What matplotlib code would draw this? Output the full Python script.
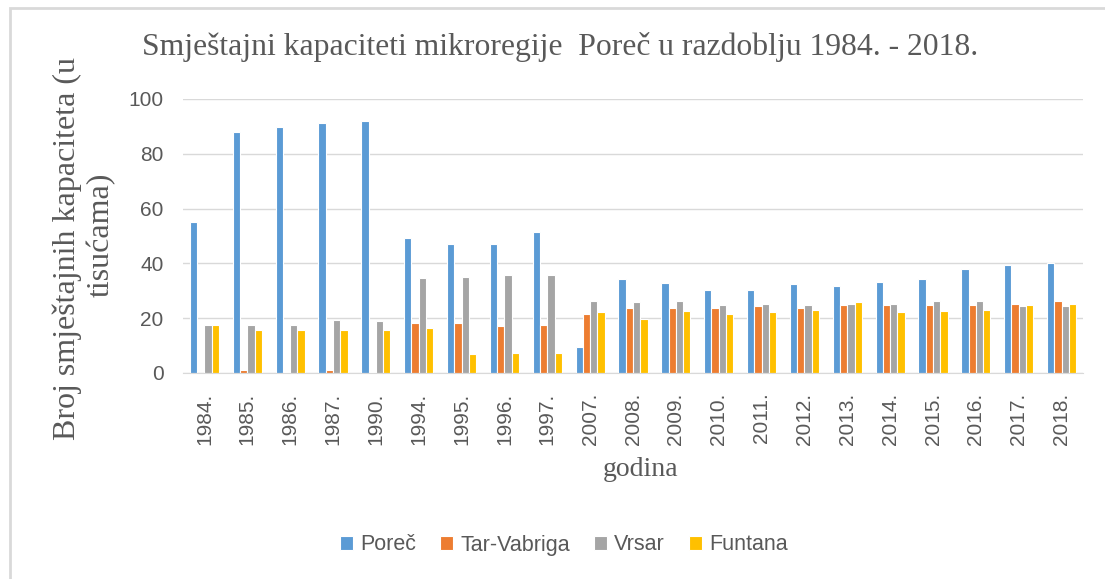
import numpy as np
import matplotlib.pyplot as plt
from matplotlib.patches import Rectangle

years = ['1984.', '1985.', '1986.', '1987.', '1990.', '1994.', '1995.', '1996.', '1997.',
         '2007.', '2008.', '2009.', '2010.', '2011.', '2012.', '2013.', '2014.', '2015.',
         '2016.', '2017.', '2018.']
porec = [55.0, 87.9, 89.8, 91.2, 92.0, 49.1, 47.1, 47.0, 51.3,
         9.5, 34.2, 32.7, 30.4, 30.4, 32.4, 31.9, 33.2, 34.2, 37.9, 39.3, 40.2]
tar_vabriga = [0.0, 1.0, 0.5, 1.0, 0.5, 18.3, 18.3, 17.0, 17.5,
               21.6, 23.9, 23.9, 23.9, 24.4, 23.9, 24.8, 24.8, 24.8, 24.8, 25.3, 26.2]
vrsar = [17.7, 17.7, 17.7, 19.3, 18.8, 34.5, 35.0, 35.6, 35.6,
         26.2, 25.8, 26.2, 24.8, 25.3, 24.8, 25.3, 25.3, 26.2, 26.2, 24.4, 24.4]
funtana = [17.5, 15.6, 15.6, 15.6, 15.6, 16.4, 7.0, 7.2, 7.2,
           22.1, 19.6, 22.5, 21.6, 22.1, 23.0, 25.8, 22.1, 22.5, 23.0, 24.8, 25.3]

series = [('Poreč', porec, '#5B9BD5'),
          ('Tar-Vabriga', tar_vabriga, '#ED7D31'),
          ('Vrsar', vrsar, '#A5A5A5'),
          ('Funtana', funtana, '#FFC000')]

text_col = '#595959'
serif = ['Liberation Serif', 'DejaVu Serif']
sans = ['Liberation Sans', 'DejaVu Sans']

fig = plt.figure(figsize=(11.05, 5.79), dpi=100)
ax = fig.add_axes([183 / 1105, 1 - 373 / 579, 900 / 1105, 274 / 579])

x = np.arange(len(years))
w = 0.17
for i, (name, vals, col) in enumerate(series):
    ax.bar(x + (i - 1.5) * w, vals, w, color=col, edgecolor='white', linewidth=0.8,
           label=name, zorder=2)

ax.set_xlim(-0.5, len(years) - 0.5)
ax.set_ylim(0, 100)
ax.set_yticks([0, 20, 40, 60, 80, 100])
ax.grid(axis='y', color='#d9d9d9', linewidth=1, zorder=0)
for s in ['top', 'right', 'left']:
    ax.spines[s].set_visible(False)
ax.spines['bottom'].set_color('#d9d9d9')
ax.tick_params(axis='both', length=0, colors=text_col)
ax.set_xticks(x)
ax.set_xticklabels(years, rotation=90, family=sans, fontsize=15, color=text_col)
ax.tick_params(axis='x', pad=14)
for lab in ax.get_yticklabels():
    lab.set_family(sans)
    lab.set_fontsize(15)
ax.tick_params(axis='y', pad=14)

fig.text(560 / 1105, 1 - 47 / 579,
         'Smještajni kapaciteti mikroregije  Poreč u razdoblju 1984. - 2018.',
         ha='center', va='center', family=serif, fontsize=22.8, color=text_col)
fig.text(641 / 1105, 1 - 470 / 579, 'godina', ha='center', va='center',
         family=serif, fontsize=20, color=text_col)
fig.text(67 / 1105, 1 - 249 / 579, 'Broj smještajnih kapaciteta (u', rotation=90,
         ha='center', va='center', family=serif, fontsize=23, color=text_col)
fig.text(101 / 1105, 1 - 235 / 579, 'tisućama)', rotation=90,
         ha='center', va='center', family=serif, fontsize=23, color=text_col)

fig.legend(loc='center', bbox_to_anchor=(564 / 1105, 1 - 545 / 579), ncol=4,
           frameon=False, prop={'family': sans, 'size': 15.5}, labelcolor=text_col,
           handlelength=0.6, handleheight=0.6, handletextpad=0.35, columnspacing=1.1)

fig.patches.append(Rectangle((10 / 1105, -0.1), 1.2, 1 - 8 / 579 + 0.1,
                             transform=fig.transFigure, fill=False,
                             edgecolor='#d9d9d9', linewidth=2))

fig.savefig('out.png', dpi=100)
